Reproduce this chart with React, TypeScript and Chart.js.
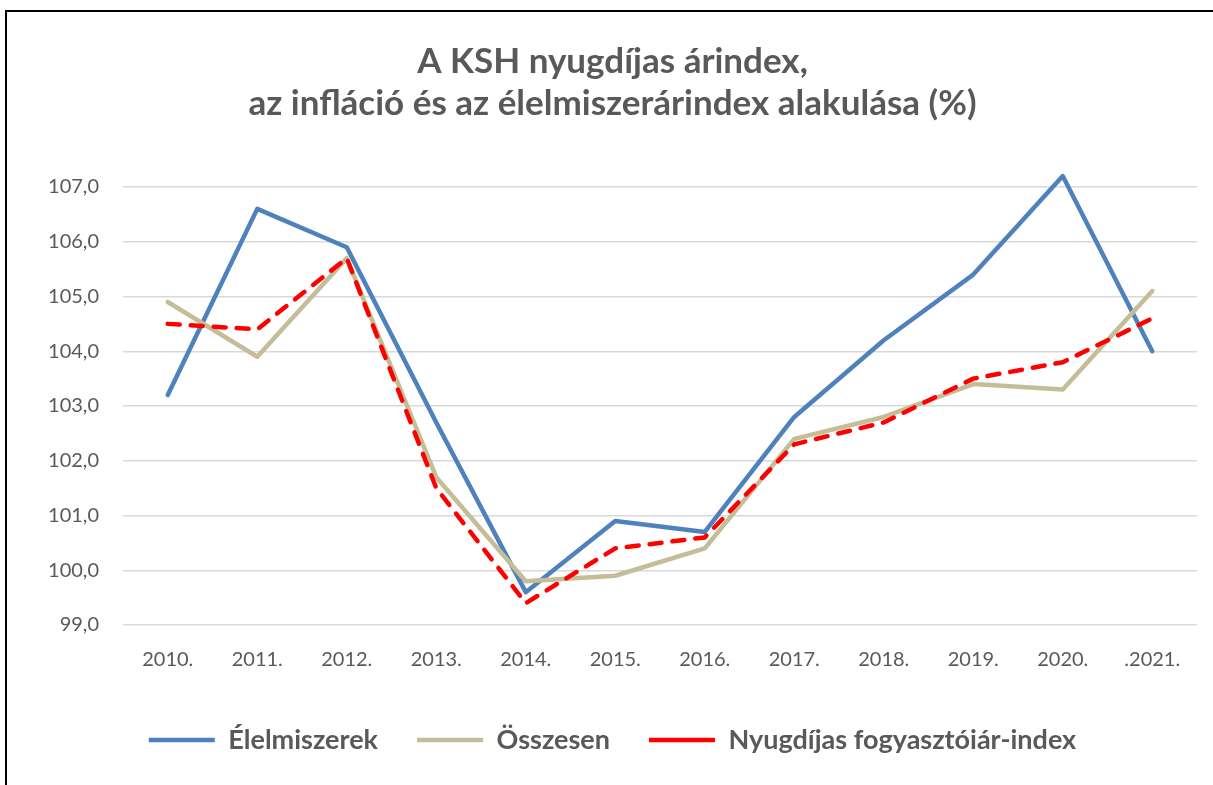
import React, { useEffect, useRef } from "react";
import { Chart, registerables } from "chart.js";

Chart.register(...registerables);

const categories = ["2010.", "2011.", "2012.", "2013.", "2014.", "2015.", "2016.", "2017.", "2018.", "2019.", "2020.", ".2021."];
const elelmiszerek = [103.2, 106.6, 105.9, 102.7, 99.6, 100.9, 100.7, 102.8, 104.2, 105.4, 107.2, 104.0];
const osszesen = [104.9, 103.9, 105.7, 101.7, 99.8, 99.9, 100.4, 102.4, 102.8, 103.4, 103.3, 105.1];
const nyugdijas = [104.5, 104.4, 105.7, 101.5, 99.4, 100.4, 100.6, 102.3, 102.7, 103.5, 103.8, 104.6];
const seriesNames = ["Élelmiszerek", "Összesen", "Nyugdíjas fogyasztóiár-index"];
const titleLines = ["A KSH nyugdíjas árindex,", "az infláció és az élelmiszerárindex alakulása (%)"];
const yMin = 99;
const yMax = 107;
const yStep = 1;

const FONT = "Lato";
const TEXT = "#595959";

export default function App() {
  const ref = useRef<HTMLCanvasElement | null>(null);

  useEffect(() => {
    document.body.style.margin = "0";
    const canvas = ref.current;
    if (!canvas) return;
    const common = {
      borderWidth: 4.5,
      pointRadius: 0,
      pointHoverRadius: 0,
      borderCapStyle: "round" as const,
      borderJoinStyle: "round" as const,
      tension: 0,
      clip: false as const,
    };
    const chart = new Chart(canvas, {
      type: "line",
      data: {
        labels: categories,
        datasets: [
          {
            ...common,
            label: seriesNames[0],
            data: elelmiszerek,
            borderColor: "#4F81BD",
            backgroundColor: "#4F81BD",
            order: 3,
          },
          {
            ...common,
            label: seriesNames[1],
            data: osszesen,
            borderColor: "#C4BD97",
            backgroundColor: "#C4BD97",
            order: 2,
          },
          {
            ...common,
            label: seriesNames[2],
            data: nyugdijas,
            borderColor: "#FF0000",
            backgroundColor: "#FF0000",
            borderDash: [12, 11],
            order: 1,
          },
        ],
      },
      options: {
        responsive: false,
        animation: false,
        devicePixelRatio: 1,
        layout: { padding: { left: 28, right: 16, top: 0, bottom: 21.5 } },
        plugins: {
          title: {
            display: true,
            text: titleLines,
            color: TEXT,
            font: { family: FONT, size: 35, weight: "bold", lineHeight: 42 / 35 },
            padding: { top: 41, bottom: 62 },
          },
          legend: {
            display: true,
            position: "bottom",
            labels: {
              usePointStyle: true,
              pointStyle: "line",
              pointStyleWidth: 66,
              color: TEXT,
              font: { family: FONT, size: 27, weight: "bold" },
              padding: 39,
              sort: (a: any, b: any) => a.datasetIndex - b.datasetIndex,
            },
          },
          tooltip: { enabled: false },
        },
        scales: {
          x: {
            type: "category",
            offset: true,
            grid: { display: false, drawTicks: false },
            border: { display: false },
            ticks: { color: TEXT, font: { family: FONT, size: 20 }, padding: 23 },
            afterFit: (scale: any) => {
              scale.height = 62.5;
            },
          },
          y: {
            min: yMin,
            max: yMax,
            grid: { color: "#D9D9D9", lineWidth: 1.5, drawTicks: false },
            border: { display: false },
            ticks: {
              stepSize: yStep,
              color: TEXT,
              font: { family: FONT, size: 20 },
              padding: 24,
              callback: (v: any) => Number(v).toFixed(1).replace(".", ","),
            },
            afterFit: (scale: any) => {
              scale.width = 95;
            },
          },
        },
      },
    });
    return () => chart.destroy();
  }, []);

  return (
    <div style={{ position: "relative", width: 1213, height: 785, overflow: "hidden", background: "#fff" }}>
      <canvas ref={ref} width={1213} height={785} style={{ display: "block" }} />
      <div
        style={{
          position: "absolute",
          left: 5,
          top: 10,
          width: 1400,
          height: 1000,
          borderLeft: "2px solid #000",
          borderTop: "2px solid #000",
          pointerEvents: "none",
        }}
      />
    </div>
  );
}
